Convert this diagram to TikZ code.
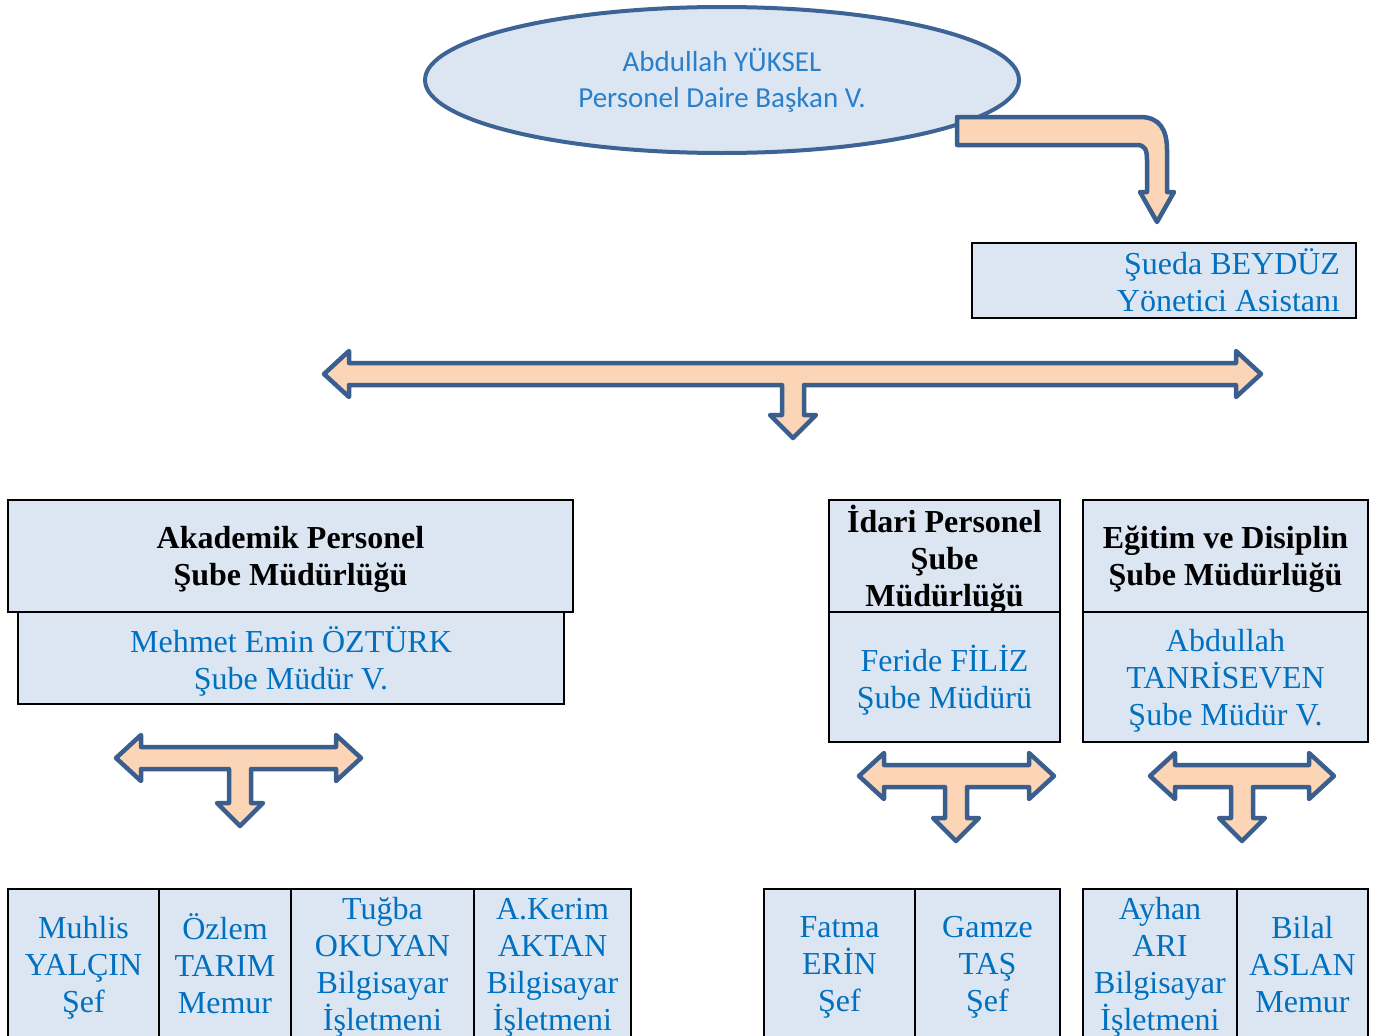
\documentclass[tikz,border=0pt]{standalone}
\usepackage{fontspec}
\setmainfont{Liberation Serif}
\newfontfamily\calibrifont{Carlito}
\usetikzlibrary{shapes.geometric}

\definecolor{boxfill}{HTML}{DCE6F2}
\definecolor{namecol}{HTML}{0070C0}
\definecolor{ovaltext}{HTML}{2A7FCB}
\definecolor{arrowfill}{HTML}{FBD5B5}
\definecolor{arrowline}{HTML}{3A5F8E}
\definecolor{ovalline}{HTML}{3D6494}

\tikzset{
  blockarrow/.style={fill=arrowfill, draw=arrowline, line width=4.5pt, line join=round},
  unitbox/.style={draw=black, line width=2pt, fill=boxfill, inner sep=0pt, outer sep=0pt,
    align=center, anchor=north west},
  headtext/.style={font=\bfseries\fontsize{32}{37}\selectfont},
  nametext/.style={text=namecol, font=\fontsize{32}{37}\selectfont},
  struts/.style={execute at begin node=\strut, execute at end node=\strut},
  headbox/.style={unitbox, label={[headtext, struts, align=center, yshift=-5.5pt]center:#1}},
  namebox/.style={unitbox, label={[nametext, struts, align=center, yshift=-5.5pt]center:#1}},
}

\newcommand{\tarrow}[5]{%
  \filldraw[blockarrow] (#1,#3) -- ({#1+25},{#3-23}) -- ({#1+25},{#3-11})
    -- ({#2-25},{#3-11}) -- ({#2-25},{#3-23}) -- (#2,#3) -- ({#2-25},{#3+23})
    -- ({#2-25},{#3+11}) -- ({#4+11},{#3+11}) -- ({#4+11},{#5-23})
    -- ({#4+23},{#5-23}) -- (#4,#5) -- ({#4-23},{#5-23}) -- ({#4-11},{#5-23})
    -- ({#4-11},{#3+11}) -- ({#1+25},{#3+11}) -- ({#1+25},{#3+23}) -- cycle;
}

\begin{document}
\begin{tikzpicture}[x=1pt, y=-1pt]
    \useasboundingbox (0,0) rectangle (1379,1036);

    \node[ellipse, draw=ovalline, line width=4pt, fill=boxfill, minimum width=594pt,
      minimum height=146pt, text=ovaltext, align=center,
      font=\calibrifont\fontsize{29}{36}\selectfont] (baskan) at (722,80)
      {Abdullah YÜKSEL\\Personel Daire Başkan V.};
    \filldraw[blockarrow] (957,117) -- (1140,117) .. controls (1160,117) and (1167,130) .. (1167,150)
      -- (1167,192) -- (1174,192) -- (1157,222) -- (1140,192) -- (1147,192) -- (1147,160)
      .. controls (1147,150) and (1145,145) .. (1137,145) -- (957,145) -- cycle;
    \node[unitbox, nametext, minimum width=384pt, minimum height=75pt, text width=352pt,
      align=flush right] (asistan) at (972,243) {Şueda BEYDÜZ\\Yönetici Asistanı};

    \tarrow{324}{1261}{374}{793}{438}

    \node[headbox={Akademik Personel\\Şube Müdürlüğü},
      minimum width=565pt, minimum height=112pt] (akademik) at (8,500) {};
    \node[namebox={Mehmet Emin ÖZTÜRK\\Şube Müdür V.},
      minimum width=546pt, minimum height=92pt] (akmudur) at (18,612) {};
    \node[headbox={İdari Personel\\Şube\\Müdürlüğü},
      minimum width=231pt, minimum height=112pt] (idari) at (829,500) {};
    \node[namebox={Feride FİLİZ\\Şube Müdürü},
      minimum width=231pt, minimum height=130pt] (idmudur) at (829,612) {};
    \node[headbox={Eğitim ve Disiplin\\Şube Müdürlüğü},
      minimum width=285pt, minimum height=112pt] (egitim) at (1083,500) {};
    \node[namebox={Abdullah\\TANRİSEVEN\\Şube Müdür V.},
      minimum width=285pt, minimum height=130pt] (egmudur) at (1083,612) {};

    \tarrow{116}{361}{758}{240}{826}
    \tarrow{859}{1054}{776}{956}{841}
    \tarrow{1150}{1334}{776}{1242}{841}

    \node[namebox={Muhlis\\YALÇIN\\Şef},
      minimum width=151pt, minimum height=150pt] (muhlis) at (8,889) {};
    \node[namebox={Özlem\\TARIM\\Memur},
      minimum width=132pt, minimum height=150pt] (ozlem) at (159,889) {};
    \node[namebox={Tuğba\\OKUYAN\\Bilgisayar\\İşletmeni},
      minimum width=183pt, minimum height=150pt] (tugba) at (291,889) {};
    \node[namebox={A.Kerim\\AKTAN\\Bilgisayar\\İşletmeni},
      minimum width=157pt, minimum height=150pt] (kerim) at (474,889) {};
    \node[namebox={Fatma\\ERİN\\Şef},
      minimum width=151pt, minimum height=150pt] (fatma) at (764,889) {};
    \node[namebox={Gamze\\TAŞ\\Şef},
      minimum width=145pt, minimum height=150pt] (gamze) at (915,889) {};
    \node[namebox={Ayhan\\ARI\\Bilgisayar\\İşletmeni},
      minimum width=154pt, minimum height=150pt] (ayhan) at (1083,889) {};
    \node[namebox={Bilal\\ASLAN\\Memur},
      minimum width=131pt, minimum height=150pt] (bilal) at (1237,889) {};
\end{tikzpicture}
\end{document}
